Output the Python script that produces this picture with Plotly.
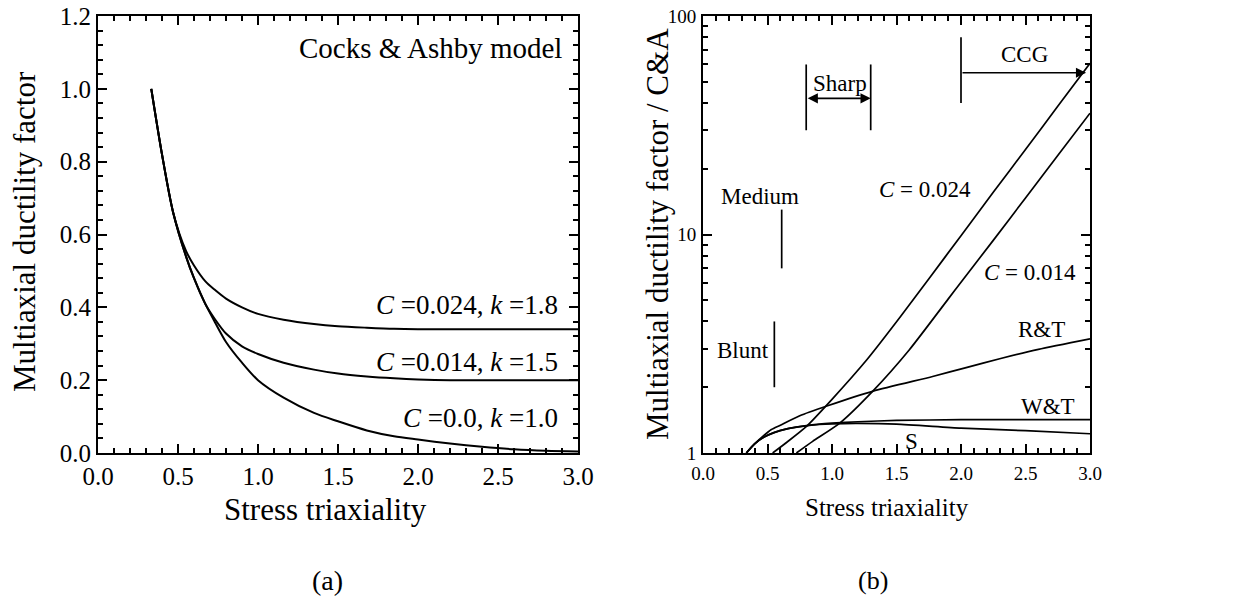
import math
import plotly.graph_objects as go

W, H = 1248, 598
FONT = "'Liberation Serif', 'Times New Roman', serif"

# ---------------- Panel (a): Cocks & Ashby model ----------------
tri_a = [0.333, 0.40, 0.47, 0.55, 0.60, 0.67, 0.73, 0.80, 0.90, 1.00, 1.16, 1.35,
         1.50, 1.68, 1.85, 2.00, 2.20, 2.40, 2.60, 2.80, 3.00]
mdf_c0 = [1.0, 0.82, 0.66, 0.54, 0.48, 0.41, 0.36, 0.305, 0.248, 0.200, 0.152, 0.110,
          0.087, 0.062, 0.046, 0.037, 0.026, 0.017, 0.010, 0.006, 0.004]
mdf_c014 = [1.0, 0.82, 0.66, 0.54, 0.48, 0.41, 0.368, 0.328, 0.293, 0.272, 0.248, 0.229,
            0.218, 0.210, 0.205, 0.202, 0.200, 0.200, 0.200, 0.200, 0.200]
mdf_c024 = [1.0, 0.82, 0.66, 0.555, 0.515, 0.472, 0.448, 0.424, 0.400, 0.382, 0.366, 0.354,
            0.348, 0.344, 0.341, 0.340, 0.340, 0.340, 0.340, 0.340, 0.340]
labels_a = ["<i>C</i> =0.024, <i>k</i> =1.8", "<i>C</i> =0.014, <i>k</i> =1.5", "<i>C</i> =0.0, <i>k</i> =1.0"]
label_a_y = [0.406, 0.250, 0.096]

# ---------------- Panel (b): ratio to C&A ----------------
tri_c024 = [0.54, 0.65, 0.80, 1.00, 1.27, 1.53, 1.76, 2.00, 2.25, 2.50, 2.75, 3.00]
rat_c024 = [1.0, 1.12, 1.32, 1.76, 2.67, 4.2, 6.38, 9.87, 15.6, 24.5, 38.6, 60.8]
tri_c014 = [0.724, 0.85, 1.06, 1.32, 1.60, 1.90, 2.00, 2.25, 2.50, 2.75, 3.00]
rat_c014 = [1.0, 1.13, 1.37, 1.93, 2.97, 5.06, 6.05, 9.4, 14.7, 23.0, 35.9]
tri_rt = [0.336, 0.40, 0.47, 0.53, 0.60, 0.75, 0.96, 1.32, 1.78, 2.04, 2.30, 2.60, 3.00]
rat_rt = [1.0, 1.10, 1.20, 1.28, 1.34, 1.48, 1.64, 1.92, 2.24, 2.46, 2.70, 2.98, 3.33]
tri_ws = [0.336, 0.40, 0.47, 0.55, 0.65, 0.75, 0.90, 1.00, 1.20, 1.50, 2.00, 2.50, 3.00]
rat_wt = [1.0, 1.10, 1.18, 1.24, 1.29, 1.32, 1.355, 1.37, 1.39, 1.41, 1.42, 1.42, 1.42]
rat_s = [1.0, 1.10, 1.18, 1.24, 1.29, 1.32, 1.35, 1.36, 1.365, 1.355, 1.30, 1.265, 1.225]

# marker bars (Sharp, CCG, Medium, Blunt)
bar_x = [0.80, 0.80, None, 1.30, 1.30, None, 2.00, 2.00, None, 0.61, 0.61, None, 0.553, 0.553]
bar_y = [30, 60, None, 30, 60, None, 40, 80, None, 7, 13, None, 2, 4]

fig = go.Figure()
for ys in (mdf_c0, mdf_c014, mdf_c024):
    fig.add_trace(go.Scatter(x=tri_a, y=ys, mode="lines",
                             line=dict(color="black", width=2, shape="spline", smoothing=0.8),
                             xaxis="x", yaxis="y", hoverinfo="skip", showlegend=False))

for xs, ys in ((tri_c024, rat_c024), (tri_c014, rat_c014), (tri_rt, rat_rt),
               (tri_ws, rat_wt), (tri_ws, rat_s)):
    fig.add_trace(go.Scatter(x=xs, y=ys, mode="lines",
                             line=dict(color="black", width=1.7, shape="spline", smoothing=0.6),
                             xaxis="x2", yaxis="y2", hoverinfo="skip", showlegend=False))

fig.add_trace(go.Scatter(x=bar_x, y=bar_y, mode="lines", line=dict(color="black", width=1.7),
                         xaxis="x2", yaxis="y2", hoverinfo="skip", showlegend=False, connectgaps=False))

common = dict(showline=True, linecolor="black", linewidth=2, mirror="ticks", ticks="inside",
              ticklen=9, tickwidth=2, tickcolor="black", showgrid=False, zeroline=False,
              automargin=False)
minor_common = dict(ticks="inside", ticklen=5, tickcolor="black", tickwidth=1.5, showgrid=False)
ydom = [1 - 453 / H, 1 - 16 / H]

fig.update_layout(
    width=W, height=H, margin=dict(l=0, r=0, t=0, b=0),
    paper_bgcolor="white", plot_bgcolor="white", showlegend=False,
    font=dict(family=FONT, color="black"),
    xaxis=dict(domain=[98 / W, 578 / W], range=[0, 3], tick0=0, dtick=0.5, tickformat=".1f",
               minor=dict(dtick=0.1, **minor_common),
               tickfont=dict(family=FONT, size=25, color="black"),
               anchor="y", **common),
    yaxis=dict(domain=ydom, range=[0, 1.2], tick0=0, dtick=0.2, tickformat=".1f",
               minor=dict(dtick=0.04, **minor_common),
               tickfont=dict(family=FONT, size=25, color="black"),
               anchor="x", **common),
    xaxis2=dict(domain=[703 / W, 1090 / W], range=[0, 3], tick0=0, dtick=0.5, tickformat=".1f",
                minor=dict(dtick=0.1, **minor_common),
                tickfont=dict(family=FONT, size=19, color="black"), ticklabelstandoff=2,
                anchor="y2", **common),
    yaxis2=dict(domain=ydom, type="log", range=[0, 2], dtick=1,
                minor=dict(dtick="D1", **minor_common),
                tickfont=dict(family=FONT, size=19, color="black"), ticklabelstandoff=1,
                anchor="x2", **common),
)

ann = []
def ptxt(text, px, py, size, angle=0):
    ann.append(dict(text=text, x=px / W, y=1 - py / H, xref="paper", yref="paper",
                    showarrow=False, textangle=angle, xanchor="center", yanchor="middle",
                    font=dict(family=FONT, size=size, color="black")))

# axis titles and captions
ptxt("Stress triaxiality", 325, 509, 31)
ptxt("Stress triaxiality", 887, 507, 25)
ptxt("Multiaxial ductility factor", 25, 232, 31, -90)
ptxt("Multiaxial ductility factor / C&amp;A", 658, 234, 31, -90)
ptxt("(a)", 327, 580, 28)
ptxt("(b)", 873, 580, 26)

# panel (a) labels
ann.append(dict(text="Cocks &amp; Ashby model", x=2.91, y=1.112, xref="x", yref="y", showarrow=False,
                xanchor="right", yanchor="middle", font=dict(family=FONT, size=29, color="black")))
for t, yv in zip(labels_a, label_a_y):
    ann.append(dict(text=t, x=2.89, y=yv, xref="x", yref="y", showarrow=False,
                    xanchor="right", yanchor="middle", font=dict(family=FONT, size=27, color="black")))

# panel (b) labels
def btxt(text, xv, yv, size=23):
    ann.append(dict(text=text, x=xv, y=math.log10(yv), xref="x2", yref="y2", showarrow=False,
                    xanchor="center", yanchor="middle", font=dict(family=FONT, size=size, color="black")))

btxt("<i>C</i> = 0.024", 1.72, 16.0)
btxt("<i>C</i> = 0.014", 2.535, 6.73)
btxt("R&amp;T", 2.626, 3.66)
btxt("W&amp;T", 2.674, 1.63)
btxt("S", 1.618, 1.127)
btxt("Medium", 0.442, 14.9)
btxt("Blunt", 0.31, 2.96)
btxt("Sharp", 1.062, 49.3)
btxt("CCG", 2.496, 66.4)

# arrows
ann.append(dict(text="", x=1.30, y=math.log10(42), ax=0.80, ay=math.log10(42),
                xref="x2", yref="y2", axref="x2", ayref="y2", showarrow=True,
                arrowhead=2, arrowside="end+start", arrowsize=1.2, arrowwidth=1.7, arrowcolor="black"))
ann.append(dict(text="", x=2.97, y=math.log10(55), ax=2.00, ay=math.log10(55),
                xref="x2", yref="y2", axref="x2", ayref="y2", showarrow=True,
                arrowhead=2, arrowside="end", arrowsize=1.2, arrowwidth=1.7, arrowcolor="black"))

fig.update_layout(annotations=ann)
fig.write_html("out.html")
